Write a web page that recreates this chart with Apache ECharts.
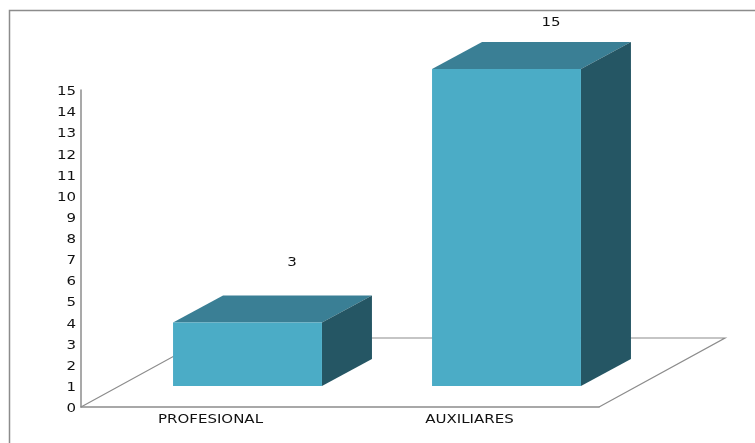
<!DOCTYPE html>
<html><head><meta charset="utf-8">
<style>html,body{margin:0;padding:0;background:#fff}#c{width:755px;height:443px}</style>
<script src="https://cdn.jsdelivr.net/npm/echarts@6/dist/echarts.min.js"></script>
</head><body><div id="c"></div>
<script>
const categories = ['PROFESIONAL', 'AUXILIARES'];
const values = [3, 15];
const yTicks = [0, 1, 2, 3, 4, 5, 6, 7, 8, 9, 10, 11, 12, 13, 14, 15];
const yMin = 0, yMax = 15, yStep = 1;

const FRONT = '#4BACC6', TOP = '#3A7F95', SIDE = '#255664', LINE = '#8C8C8C', TEXT = '#111';
const FONT = '12px "DejaVu Sans", sans-serif';
const STRETCH = 1.25;
const depthX = 50, depthY = 27, floorX = 126, floorY = 69, lift = 21;

function wideText(text, x, y, align) {
  return { type: 'text', x, y, scaleX: STRETCH, scaleY: 1, style: { text: String(text), font: FONT, fill: TEXT, align, verticalAlign: 'middle' } };
}
function renderFloor(params, api) {
  const g = params.coordSys;
  const b = g.y + g.height;
  return { type: 'polyline', shape: { points: [[g.x, b], [g.x + floorX, b - floorY], [g.x + g.width + floorX, b - floorY], [g.x + g.width, b]] }, style: { stroke: LINE, lineWidth: 1.2, fill: null } };
}
function renderYLabel(params, api) {
  const p = api.coord([0, api.value(0)]);
  const g = params.coordSys;
  return wideText(api.value(0), g.x - 5, p[1] + 2, 'right');
}
function renderBar(params, api) {
  const i = api.value(0), v = api.value(1);
  const p = api.coord([i, v]), p0 = api.coord([i, 0]);
  const w = api.size([1, 0])[0] * 0.575;
  const l = p[0] + 37 - w / 2, r = l + w, t = p[1] - lift, b = p0[1] - lift;
  const labelLift = i === 0 ? 60 : 46;
  return { type: 'group', children: [
    { type: 'polygon', shape: { points: [[l, t], [l + depthX, t - depthY], [r + depthX, t - depthY], [r, t]] }, style: { fill: TOP } },
    { type: 'polygon', shape: { points: [[r, t], [r + depthX, t - depthY], [r + depthX, b - depthY], [r, b]] }, style: { fill: SIDE } },
    { type: 'rect', shape: { x: l, y: t, width: w, height: b - t }, style: { fill: FRONT } },
    wideText(v, (l + r) / 2 + 44.5, t - labelLift, 'center'),
    wideText(categories[i], p0[0], p0[1] + 13, 'center')
  ]};
}
const chart = echarts.init(document.getElementById('c'), null, { renderer: 'canvas' });
chart.setOption({
  animation: false,
  backgroundColor: '#fff',
  grid: { left: 81, right: 156, top: 90, bottom: 36 },
  xAxis: { type: 'category', data: categories, axisLine: { lineStyle: { color: LINE, width: 1.5 } }, axisTick: { show: false }, axisLabel: { show: false } },
  yAxis: { type: 'value', min: yMin, max: yMax, interval: yStep, splitLine: { show: false }, axisTick: { show: false },
    axisLine: { show: true, lineStyle: { color: LINE, width: 1.5 } }, axisLabel: { show: false } },
  graphic: [{ type: 'polyline', shape: { points: [[9.5, 443], [9.5, 10.5], [755, 10.5]] }, style: { stroke: LINE, lineWidth: 1.5, fill: null } }],
  series: [
    { type: 'custom', name: 'floor', renderItem: renderFloor, data: [0], clip: false, silent: true, z: 1 },
    { type: 'custom', name: 'yLabels', renderItem: renderYLabel, data: yTicks.map(t => [t]), encode: { y: 0 }, clip: false, silent: true, z: 3 },
    { type: 'custom', name: 'values', renderItem: renderBar, data: values.map((v, i) => [i, v]), encode: { x: 0, y: 1 }, clip: false, z: 2 }
  ]
});
</script></body></html>
